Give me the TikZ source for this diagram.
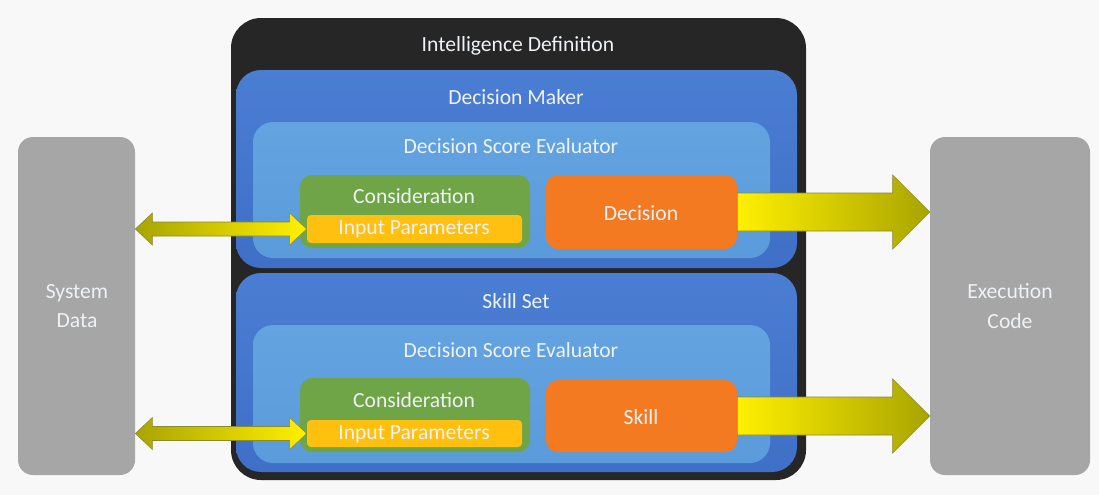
\documentclass[tikz,border=0pt]{standalone}
\usepackage{fontspec}
\setmainfont{Carlito}
\usetikzlibrary{fit,calc}
\definecolor{bg}{HTML}{F8F8F8}
\definecolor{outerdark}{HTML}{262626}
\definecolor{bluedark}{HTML}{3F6FC6}
\definecolor{bluetop}{HTML}{4A7ED3}
\definecolor{bluelight}{HTML}{5B9BDB}
\definecolor{bluelighttop}{HTML}{63A3E0}
\definecolor{cgreen}{HTML}{6FA547}
\definecolor{cyel}{HTML}{FFC010}
\definecolor{corange}{HTML}{F47A22}
\definecolor{cgray}{HTML}{A6A6A6}
\definecolor{txt}{HTML}{EEF2F6}
\definecolor{ayel}{HTML}{FFF000}
\definecolor{aolive}{HTML}{A9A400}
\definecolor{aedge}{HTML}{8A8A30}
\tikzset{
  every node/.style={font=\fontsize{12.3}{14}\selectfont, text=txt},
  boxbase/.style={inner sep=0pt, draw=none},
  outerbox/.style={boxbase, fill=outerdark, rounded corners=0.6cm},
  dmbox/.style={boxbase, top color=bluetop, bottom color=bluedark, rounded corners=0.5cm},
  dsebox/.style={boxbase, top color=bluelighttop, bottom color=bluelight, rounded corners=0.4cm},
  consbox/.style={boxbase, fill=cgreen, rounded corners=0.24cm},
  inpbox/.style={boxbase, fill=cyel, rounded corners=0.08cm},
  actbox/.style={boxbase, fill=corange, rounded corners=0.24cm},
  graybox/.style={boxbase, fill=cgray, rounded corners=0.3cm},
  lbl/.style={inner sep=0pt, anchor=center},
  fatarrow/.style={left color=ayel, right color=aolive, draw=aedge, line width=0.3pt},
  dblarrow/.style={left color=aolive, right color=ayel, draw=aedge, line width=0.3pt},
}
\begin{document}
\begin{tikzpicture}[x=0.02cm, y=-0.02cm]
\fill[bg] (0,0) rectangle (1099,495);
\useasboundingbox (0,0) rectangle (1099,495);

% side boxes
\node[graybox, fit={(18,137) (135,475)}] (sys) {};
\node[lbl, align=center] (syslbl) at (77,306) {System\\[3pt]Data};
\node[graybox, fit={(930,137) (1090,475)}] (exec) {};
\node[lbl, align=center] (execlbl) at (1010,306) {Execution\\[3pt]Code};

% outer
\node[outerbox, fit={(231,18) (806,480)}] (intel) {};
\node[lbl] (intellbl) at (518,46) {Intelligence Definition};

% Decision maker
\node[dmbox, fit={(236,70) (797,268)}] (dm) {};
\node[lbl] (dmlbl) at (516,97) {Decision Maker};
\node[dsebox, fit={(253,122) (770,258)}] (dse1) {};
\node[lbl] (dse1lbl) at (511,146) {Decision Score Evaluator};
\node[consbox, fit={(300,175) (530,248)}] (cons1) {};
\node[lbl] (cons1lbl) at (414,196) {Consideration};
\node[inpbox, fit={(307,215) (522,243)}] (inp1) {};
\node[lbl] (inp1lbl) at (414,229) {Input Parameters};
\node[actbox, fit={(546,175) (737,249)}] (dec) {};
\node[lbl] (declbl) at (641,213) {Decision};

% Skill set
\node[dmbox, fit={(236,273) (797,472)}] (ss) {};
\node[lbl] (sslbl) at (516,301) {Skill Set};
\node[dsebox, fit={(253,325) (770,463)}] (dse2) {};
\node[lbl] (dse2lbl) at (511,350) {Decision Score Evaluator};
\node[consbox, fit={(300,378) (530,452)}] (cons2) {};
\node[lbl] (cons2lbl) at (414,400) {Consideration};
\node[inpbox, fit={(307,420) (522,447)}] (inp2) {};
\node[lbl] (inp2lbl) at (414,434) {Input Parameters};
\node[actbox, fit={(546,380) (737,452)}] (skill) {};
\node[lbl] (skilllbl) at (641,417) {Skill};

% big right arrows
\foreach \src in {dec,skill}{
  \coordinate (a1) at (\src.east);
  \coordinate (a2) at (exec.west |- \src.east);
  \path[fatarrow] ($(a1)+(0,-19)$) -- ($(a2)+(-37,-19)$) -- ($(a2)+(-37,-37)$) -- (a2)
     -- ($(a2)+(-37,37)$) -- ($(a2)+(-37,19)$) -- ($(a1)+(0,19)$) -- cycle;
}

% double arrows
\foreach \dst in {inp1,inp2}{
  \coordinate (b1) at (sys.east |- \dst.west);
  \coordinate (b2) at (\dst.west);
  \path[dblarrow] (b1) -- ($(b1)+(17,-16)$) -- ($(b1)+(17,-7)$) -- ($(b2)+(-17,-7)$)
     -- ($(b2)+(-17,-16)$) -- (b2) -- ($(b2)+(-17,16)$) -- ($(b2)+(-17,7)$)
     -- ($(b1)+(17,7)$) -- ($(b1)+(17,16)$) -- cycle;
}
\end{tikzpicture}
\end{document}
